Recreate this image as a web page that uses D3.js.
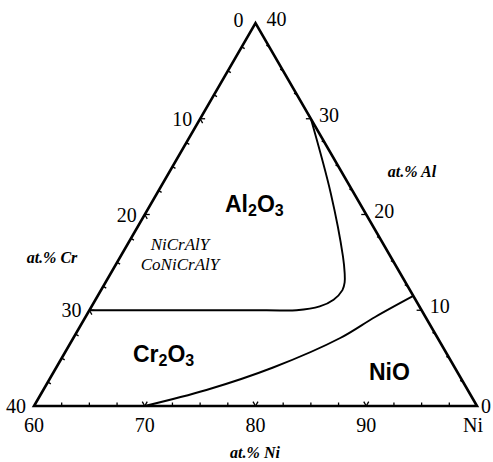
<!DOCTYPE html>
<html>
<head>
<meta charset="utf-8">
<script src="https://cdn.jsdelivr.net/npm/d3@7/dist/d3.min.js"></script>
<style>
  html, body { margin: 0; padding: 0; background: #fff; }
  svg { display: block; }
</style>
</head>
<body>
<svg id="chart" width="493" height="462"></svg>
<script>
// Ni-Cr-Al oxide map (partial ternary: Ni 60-100, Cr 0-40, Al 0-40 at.%)
const niTicks = [60, 70, 80, 90, 100];
const niTickLabels = ["60", "70", "80", "90", "Ni"];
const crTicks = [0, 10, 20, 30, 40];
const crTickLabels = ["0", "10", "20", "30", "40"];
const alTicks = [40, 30, 20, 10, 0];
const alTickLabels = ["40", "30", "20", "10", "0"];
const minorStep = 2.5;

// Al2O3 / Cr2O3 boundary (Cr, Al in at.%)
const al2o3Cr = [0, 2.1, 4.3, 5.0, 5.5, 6.1, 7.4, 9.0, 11.3, 14, 30];
const al2o3Al = [30, 22.2, 15.6, 13.9, 12.9, 12.1, 11.1, 10.4, 10.0, 10, 10];

// Cr2O3 / NiO boundary
const nioCr = [30, 23.6, 16.4, 8.8, 4.55, 0];
const nioAl = [0, 1.67, 4.02, 7.1, 9.3, 11.5];

const svg = d3.select("#chart");

const niX = d3.scaleLinear().domain([60, 100]).range([34, 477]);
const alY = d3.scaleLinear().domain([0, 40]).range([406, 23]);
const alDx = d3.scaleLinear().domain([0, 40]).range([0, (477 - 34) / 2]);

function proj(cr, al) {
  const ni = 100 - cr - al;
  return [niX(ni) + alDx(al), alY(al)];
}

const serif = "'Liberation Serif', 'Times New Roman', serif";
const sans = "'Liberation Sans', Arial, sans-serif";

// triangle outline
const L = proj(40, 0), R = proj(0, 0), T = proj(0, 40);
svg.append("path")
  .attr("d", d3.line()([L, R, T]) + "Z")
  .attr("fill", "none")
  .attr("stroke", "#000")
  .attr("stroke-width", 2.6)
  .attr("stroke-linejoin", "miter");

// ticks: each edge gets a tick every 2.5 at.%, majors as a small V
const tickG = svg.append("g").attr("stroke", "#000").attr("stroke-width", 1.3);
const c60 = Math.cos(Math.PI / 3), s60 = Math.sin(Math.PI / 3);
function drawTick(p, dirs, major) {
  if (major) {
    dirs.forEach(d => {
      tickG.append("line")
        .attr("x1", p[0]).attr("y1", p[1])
        .attr("x2", p[0] + d[0] * 5).attr("y2", p[1] + d[1] * 5);
    });
  } else {
    const n = [(dirs[0][0] + dirs[1][0]) / 2, (dirs[0][1] + dirs[1][1]) / 2];
    const len = Math.hypot(n[0], n[1]);
    tickG.append("line")
      .attr("x1", p[0]).attr("y1", p[1])
      .attr("x2", p[0] + n[0] / len * 3.5).attr("y2", p[1] + n[1] / len * 3.5);
  }
}
d3.range(minorStep, 40, minorStep).forEach(v => {
  const major = v % 10 === 0;
  // bottom edge (Al = 0), v = Cr
  drawTick(proj(v, 0), [[c60, -s60], [-c60, -s60]], major);
  // left edge (Ni = 60), v = Cr
  drawTick(proj(v, 40 - v), [[1, 0], [c60, s60]], major);
  // right edge (Cr = 0), v = Al
  drawTick(proj(0, v), [[-1, 0], [-c60, -s60]], major);
});

// boundaries
const curve = d3.line().curve(d3.curveCatmullRom.alpha(0.5));
svg.append("path")
  .attr("d", curve(al2o3Cr.map((c, i) => proj(c, al2o3Al[i]))))
  .attr("fill", "none").attr("stroke", "#000").attr("stroke-width", 1.9);
svg.append("path")
  .attr("d", curve(nioCr.map((c, i) => proj(c, nioAl[i]))))
  .attr("fill", "none").attr("stroke", "#000").attr("stroke-width", 1.9);

// tick labels
const lab = svg.append("g").attr("font-family", serif).attr("font-size", 20).attr("fill", "#000");
niTicks.forEach((v, i) => {
  const p = proj(100 - v, 0);
  lab.append("text")
    .attr("x", p[0] - (v === 100 ? 4 : 0)).attr("y", 432)
    .attr("text-anchor", "middle")
    .text(niTickLabels[i]);
});
crTicks.forEach((v, i) => {
  const p = proj(v, 40 - v);
  lab.append("text")
    .attr("x", p[0] - (v === 0 ? 12 : 8)).attr("y", p[1] - (v === 0 ? 3 : 0))
    .attr("dy", "0.35em")
    .attr("text-anchor", "end")
    .text(crTickLabels[i]);
});
alTicks.forEach((v, i) => {
  const p = proj(0, v);
  lab.append("text")
    .attr("x", p[0] + (v === 40 ? 11 : (v === 0 ? 4 : 8))).attr("y", p[1] - (v === 0 ? 0 : 4))
    .attr("dy", "0.35em")
    .attr("text-anchor", "start")
    .text(alTickLabels[i]);
});

// axis titles
const titles = [
  { text: "at.% Ni", x: 255, y: 458 },
  { text: "at.% Cr", x: 52, y: 263 },
  { text: "at.% Al", x: 412, y: 177 }
];
svg.append("g").selectAll("text").data(titles).join("text")
  .attr("x", d => d.x).attr("y", d => d.y)
  .attr("text-anchor", "middle")
  .attr("font-family", serif).attr("font-size", 16)
  .attr("font-weight", "bold").attr("font-style", "italic")
  .text(d => d.text);

// alloy labels
svg.append("g").selectAll("text").data(["NiCrAlY", "CoNiCrAlY"]).join("text")
  .attr("x", 180).attr("y", (d, i) => 250 + i * 19.5)
  .attr("text-anchor", "middle")
  .attr("font-family", serif).attr("font-size", 17)
  .attr("font-style", "italic")
  .text(d => d);

// phase field labels with subscripts
const phases = [
  { parts: [["Al", 0], ["2", 1], ["O", 0], ["3", 1]], x: 225, y: 212 },
  { parts: [["Cr", 0], ["2", 1], ["O", 0], ["3", 1]], x: 133, y: 362 },
  { parts: [["NiO", 0]], x: 369, y: 380 }
];
phases.forEach(ph => {
  const t = svg.append("text")
    .attr("x", ph.x).attr("y", ph.y)
    .attr("font-family", sans).attr("font-size", 23).attr("font-weight", "bold");
  ph.parts.forEach(([s, sub], i) => {
    const ts = t.append("tspan").text(s);
    if (sub) ts.attr("font-size", 16).attr("dy", 4);
    else if (i > 0) ts.attr("dy", -4);
  });
});
</script>
</body>
</html>
